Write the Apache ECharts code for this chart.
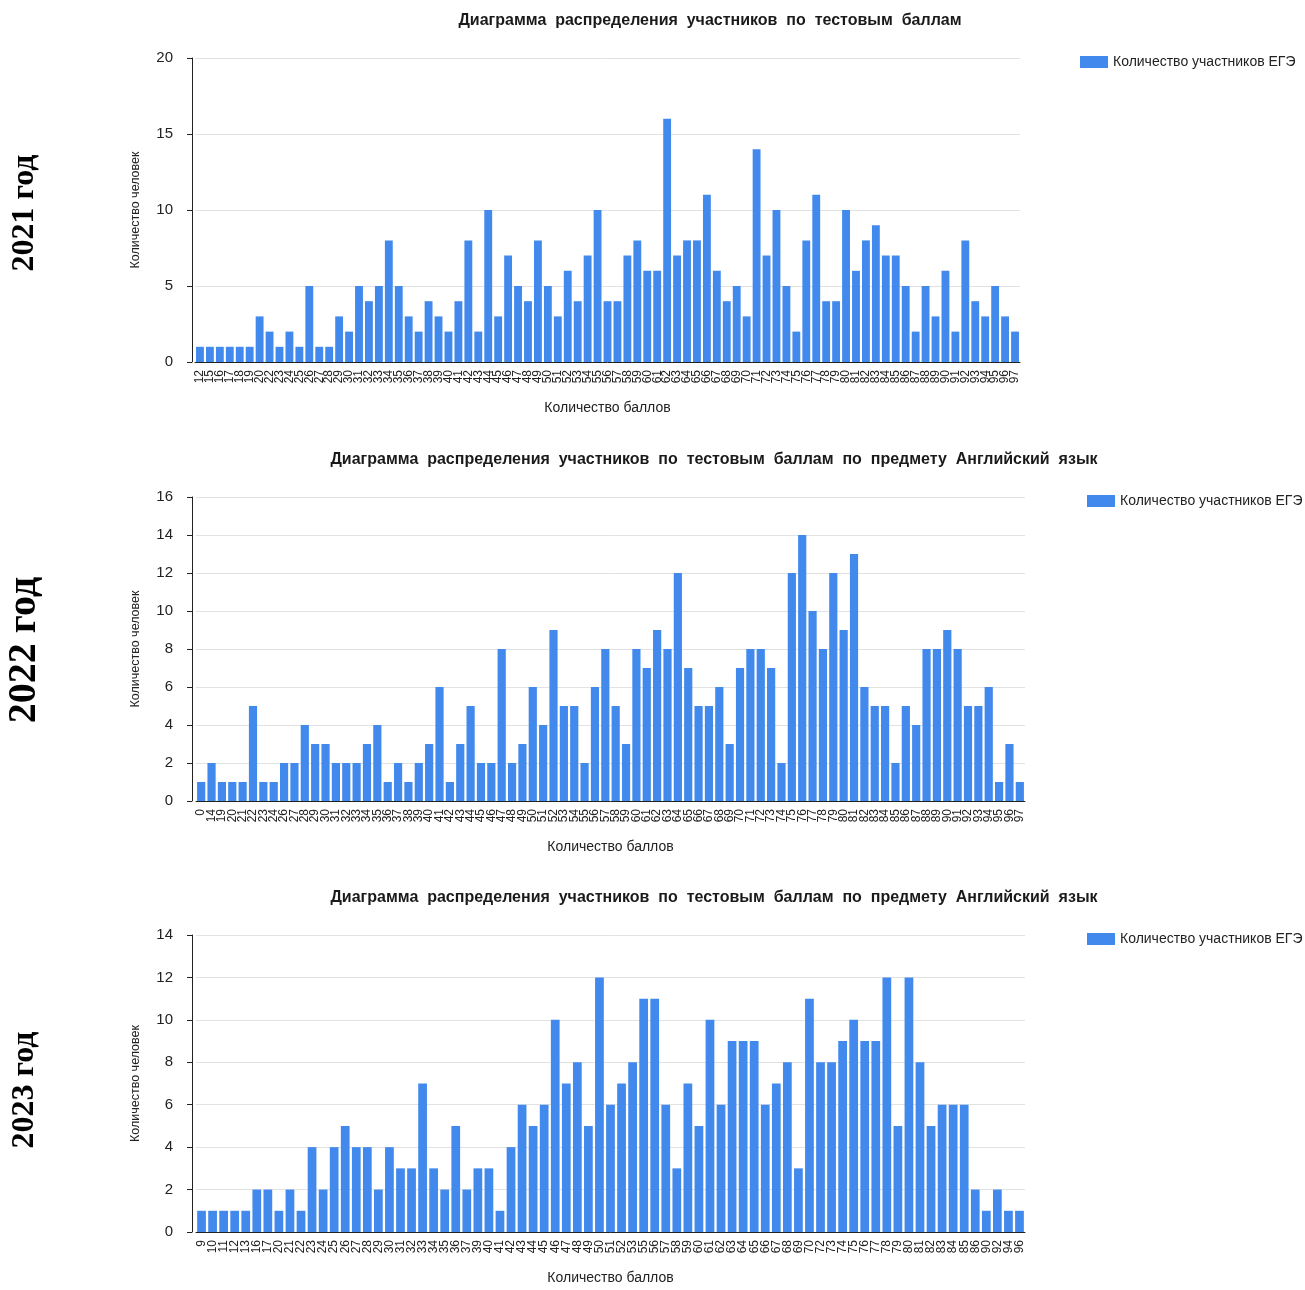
<!DOCTYPE html>
<html><head><meta charset="utf-8">
<script src="https://cdn.jsdelivr.net/npm/echarts@6/dist/echarts.min.js"></script>
<style>body{margin:0;background:#fff;} .c{position:absolute;left:0;width:1305px;}</style>
</head><body>
<div id="c1" class="c" style="top:0;height:439px"></div>
<div id="c2" class="c" style="top:439px;height:438px"></div>
<div id="c3" class="c" style="top:877px;height:413px"></div>
<script>
// ---- 2021 ----
const scores2021 = ['12','15','16','17','18','19','20','22','23','24','25','26','27','28','29','30','31','32','33','34','35','36','37','38','39','40','41','42','43','44','45','46','47','48','49','50','51','52','53','54','55','56','57','58','59','60','61','62','63','64','65','66','67','68','69','70','71','72','73','74','75','76','77','78','79','80','81','82','83','84','85','86','87','88','89','90','91','92','93','94','95','96','97'];
const counts2021 = [1,1,1,1,1,1,3,2,1,2,1,5,1,1,3,2,5,4,5,8,5,3,2,4,3,2,4,8,2,10,3,7,5,4,8,5,3,6,4,7,10,4,4,7,8,6,6,16,7,8,8,11,6,4,5,3,14,7,10,5,2,8,11,4,4,10,6,8,9,7,7,5,2,5,3,6,2,8,4,3,5,3,2];
// ---- 2022 ----
const scores2022 = ['0','14','19','20','21','22','23','24','26','27','28','29','30','31','32','33','34','35','36','37','38','39','40','41','42','43','44','45','46','47','48','49','50','51','52','53','54','55','56','57','58','59','60','61','62','63','64','65','66','67','68','69','70','71','72','73','74','75','76','77','78','79','80','81','82','83','84','85','86','87','88','89','90','91','92','93','94','95','96','97'];
const counts2022 = [1,2,1,1,1,5,1,1,2,2,4,3,3,2,2,2,3,4,1,2,1,2,3,6,1,3,5,2,2,8,2,3,6,4,9,5,5,2,6,8,5,3,8,7,9,8,12,7,5,5,6,3,7,8,8,7,2,12,14,10,8,12,9,13,6,5,5,2,5,4,8,8,9,8,5,5,6,1,3,1];
// ---- 2023 ----
const scores2023 = ['9','10','11','12','13','16','17','20','21','22','23','24','25','26','27','28','29','30','31','32','33','34','35','36','37','39','40','41','42','43','44','45','46','47','48','49','50','51','52','53','55','56','57','58','59','60','61','62','63','64','65','66','67','68','69','70','72','73','74','75','76','77','78','79','80','81','82','83','84','85','86','90','92','94','96'];
const counts2023 = [1,1,1,1,1,2,2,1,2,1,4,2,4,5,4,4,2,4,3,3,7,3,2,5,2,3,3,1,4,6,5,6,10,7,8,5,12,6,7,8,11,11,6,3,7,5,10,6,9,9,9,6,7,8,3,11,8,8,9,10,9,9,12,5,12,8,5,6,6,6,2,1,2,1,1];

const title1 = 'Диаграмма  распределения  участников  по  тестовым  баллам';
const title2 = 'Диаграмма  распределения  участников  по  тестовым  баллам  по  предмету  Английский  язык';
const seriesName = 'Количество участников ЕГЭ';
const xName = 'Количество баллов';
const yName = 'Количество человек';

const FONT = '"Liberation Sans", Arial, sans-serif';

function build(cfg) {
  return {
    animation: false,
    backgroundColor: '#fff',
    textStyle: { fontFamily: FONT },
    graphic: [
      { type: 'text', x: cfg.titleX, y: 21, style: { text: cfg.title, align: 'center', verticalAlign: 'middle', font: 'bold 16px ' + FONT, fill: '#1a1a1a' } },
      { type: 'text', x: 25, y: cfg.yearY, rotation: Math.PI / 2, style: { text: cfg.year, align: 'center', verticalAlign: 'middle', font: 'bold ' + cfg.yearSize + 'px "Liberation Serif", "Times New Roman", serif', fill: '#000' } }
    ],
    legend: {
      left: cfg.legendLeft, top: 50, itemWidth: 28, itemHeight: 12, icon: 'rect',
      textStyle: { fontSize: 14, color: '#222', fontFamily: FONT },
      data: [seriesName]
    },
    grid: { left: cfg.gridLeft, right: cfg.gridRight, top: 58, height: 304 },
    xAxis: {
      type: 'category', data: cfg.cats, boundaryGap: true,
      name: xName, nameLocation: 'middle', nameGap: 39,
      nameTextStyle: { fontSize: 14, color: '#222', fontFamily: FONT },
      axisLine: { lineStyle: { color: '#222', width: 1 } },
      axisTick: { alignWithLabel: true, interval: 0, length: 5, lineStyle: { color: '#222' } },
      axisLabel: { rotate: 90, interval: 0, fontSize: 12, color: '#222', margin: 8, fontFamily: FONT }
    },
    yAxis: {
      type: 'value', min: 0, max: cfg.yMax, interval: cfg.yInt, offset: cfg.yOffset,
      name: yName, nameLocation: 'middle', nameGap: 50,
      nameTextStyle: { fontSize: 12.5, color: '#222', fontFamily: FONT },
      axisLine: { show: true, lineStyle: { color: '#222', width: 1 } },
      axisTick: { show: true, length: 5, lineStyle: { color: '#222' } },
      axisLabel: { fontSize: 15, color: '#222', margin: 19, fontFamily: FONT },
      splitLine: { lineStyle: { color: '#e2e2e2', width: 1 } }
    },
    series: [{
      name: seriesName, type: 'bar', data: cfg.vals, barWidth: '79%',
      itemStyle: { color: '#4189ec' }
    }]
  };
}

const c1 = echarts.init(document.getElementById('c1'), null, { renderer: 'canvas' });
c1.setOption(build({ cats: scores2021, vals: counts2021, yMax: 20, yInt: 5, gridLeft: 195, gridRight: 285, yOffset: 3, title: title1, titleX: 710, year: '2021 год', yearSize: 32, yearY: 213, legendLeft: 1075 }));
const c2 = echarts.init(document.getElementById('c2'), null, { renderer: 'canvas' });
c2.setOption(build({ cats: scores2022, vals: counts2022, yMax: 16, yInt: 2, gridLeft: 196, gridRight: 280, yOffset: 4, title: title2, titleX: 714, year: '2022 год', yearSize: 40, yearY: 211, legendLeft: 1082 }));
const c3 = echarts.init(document.getElementById('c3'), null, { renderer: 'canvas' });
c3.setOption(build({ cats: scores2023, vals: counts2023, yMax: 14, yInt: 2, gridLeft: 196, gridRight: 280, yOffset: 4, title: title2, titleX: 714, year: '2023 год', yearSize: 32, yearY: 213, legendLeft: 1082 }));
</script>
</body></html>
